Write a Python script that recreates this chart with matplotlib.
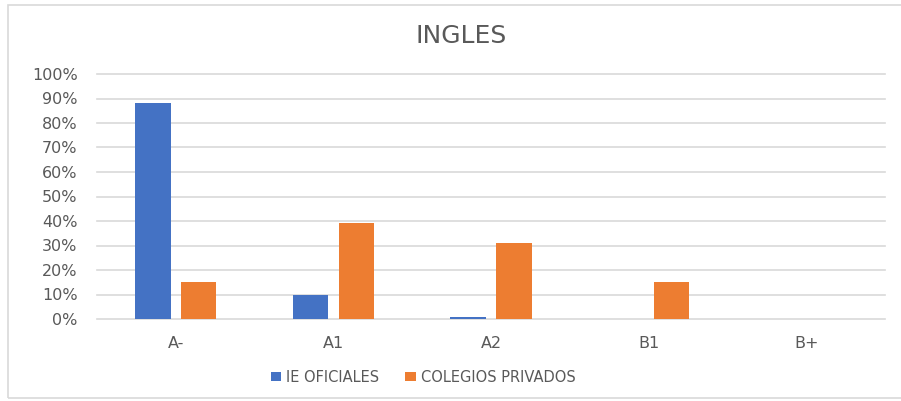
import numpy as np
import matplotlib
matplotlib.use('Agg')
import matplotlib.pyplot as plt
from matplotlib.patches import Rectangle
from matplotlib.ticker import FuncFormatter

categories = ['A-', 'A1', 'A2', 'B1', 'B+']
ie_oficiales = [0.88, 0.10, 0.01, 0.0, 0.0]
colegios_privados = [0.15, 0.39, 0.31, 0.15, 0.0]
series_names = ['IE OFICIALES', 'COLEGIOS PRIVADOS']

BLUE = '#4472C4'
ORANGE = '#ED7D31'
TEXT = '#595959'

plt.rcParams['font.family'] = ['DejaVu Sans']

fig = plt.figure(figsize=(9.01, 4.01), dpi=100)
W, H = 901, 401
ax = fig.add_axes([97 / W, 1 - 319 / H, (885 - 97) / W, (319 - 74) / H])

x = np.arange(len(categories))
bw = 0.225
gap = 0.065
ax.bar(x - (bw + gap) / 2, ie_oficiales, width=bw, color=BLUE, label=series_names[0], zorder=3)
ax.bar(x + (bw + gap) / 2, colegios_privados, width=bw, color=ORANGE, label=series_names[1], zorder=3)

ax.set_xlim(-0.5, len(categories) - 0.5)
ax.set_ylim(0, 1.0)
ax.set_yticks(np.arange(0, 1.01, 0.1))
ax.yaxis.set_major_formatter(FuncFormatter(lambda v, p: f'{int(round(v * 100))}%'))
ax.set_xticks(x)
ax.set_xticklabels(categories)
ax.grid(axis='y', color='#D9D9D9', linewidth=1.2, zorder=0)
for gl in ax.get_ygridlines():
    gl.set_clip_on(False)
ax.tick_params(axis='both', length=0, colors=TEXT, labelsize=11.5)
ax.tick_params(axis='y', pad=14)
ax.tick_params(axis='x', pad=12)
for s in ax.spines.values():
    s.set_visible(False)

fig.text(461 / W, 1 - 36 / H, 'INGLES', ha='center', va='center', fontsize=18, color=TEXT)

leg = fig.legend(loc='center', bbox_to_anchor=(423 / W, 1 - 377 / H), ncol=2, frameon=False,
                 fontsize=10.5, handlelength=0.7, handleheight=0.6, columnspacing=1.8,
                 handletextpad=0.35)
for t in leg.get_texts():
    t.set_color(TEXT)

fig.patches.append(Rectangle((8 / W, 1 - 398 / H), 1.0, (398 - 5) / H, transform=fig.transFigure,
                             fill=False, edgecolor='#D9D9D9', linewidth=1.2))

fig.savefig('out.png', dpi=100)
